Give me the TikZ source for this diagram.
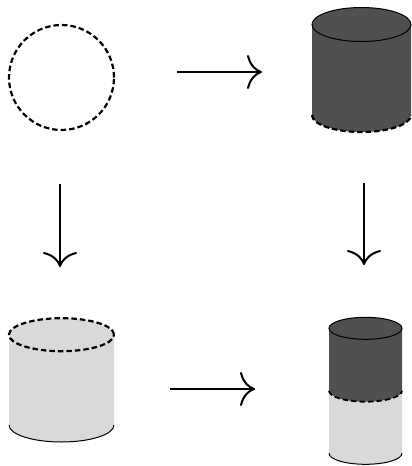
\documentclass[tikz,border=0pt]{standalone}
\usetikzlibrary{arrows.meta}
\definecolor{darkfill}{HTML}{505050}
\definecolor{lightfill}{HTML}{D9D9D9}
\begin{document}
\begin{tikzpicture}[x=1pt,y=1pt,
  rim/.style={line width=1pt},
  cut/.style={line width=2.2pt, dash pattern=on 5.5pt off 3pt},
  mapsto/.style={line width=2pt, -{Computer Modern Rightarrow[length=15pt,width=34pt]}}]
\useasboundingbox (0,0) rectangle (412,-466);

% empty dashed circle
\draw[cut] (61.5,-77.5) circle[radius=52.5];

% dark cylinder, dashed bottom rim
\fill[darkfill] (312,-24.5) -- (312,-115)
  arc[start angle=180,end angle=360,x radius=49.5,y radius=17] -- (411,-24.5)
  arc[start angle=0,end angle=180,x radius=49.5,y radius=17] -- cycle;
\draw[rim] (361.5,-24.5) ellipse[x radius=49.5,y radius=17];
\draw[cut] (312,-115) arc[start angle=180,end angle=360,x radius=49.5,y radius=17];

% light cylinder, dashed top rim
\fill[lightfill] (9,-334.7) -- (9,-425)
  arc[start angle=180,end angle=360,x radius=52.5,y radius=17] -- (114,-334.7)
  arc[start angle=0,end angle=180,x radius=52.5,y radius=16.5] -- cycle;
\draw[rim] (9,-425) arc[start angle=180,end angle=360,x radius=52.5,y radius=17];
\draw[cut] (61.5,-334.7) ellipse[x radius=52.5,y radius=16.5];

% stacked cylinder: dark over light
\fill[lightfill] (329,-390.7) -- (329,-453.3)
  arc[start angle=180,end angle=360,x radius=36.5,y radius=11] -- (402,-390.7) -- cycle;
\fill[darkfill] (329,-328.3) -- (329,-390.7)
  arc[start angle=180,end angle=360,x radius=36.5,y radius=11] -- (402,-328.3)
  arc[start angle=0,end angle=180,x radius=36.5,y radius=11] -- cycle;
\draw[rim] (365.5,-328.3) ellipse[x radius=36.5,y radius=11];
\draw[cut, line width=1.8pt] (329,-390.7) arc[start angle=180,end angle=360,x radius=36.5,y radius=11];
\draw[rim] (329,-453.3) arc[start angle=180,end angle=360,x radius=36.5,y radius=11];

% arrows
\coordinate (hA) at (177,-72);
\coordinate (hB) at (262,-72);
\coordinate (hC) at (170,-389);
\coordinate (hD) at (255,-389);
\coordinate (vA) at (60,-184);
\coordinate (vB) at (60,-267);
\coordinate (vC) at (364,-183);
\coordinate (vD) at (364,-265);
\draw[mapsto] (hA) -- (hB);
\draw[mapsto] (hC) -- (hD);
\draw[mapsto] (vA) -- (vB);
\draw[mapsto] (vC) -- (vD);
\end{tikzpicture}
\end{document}
